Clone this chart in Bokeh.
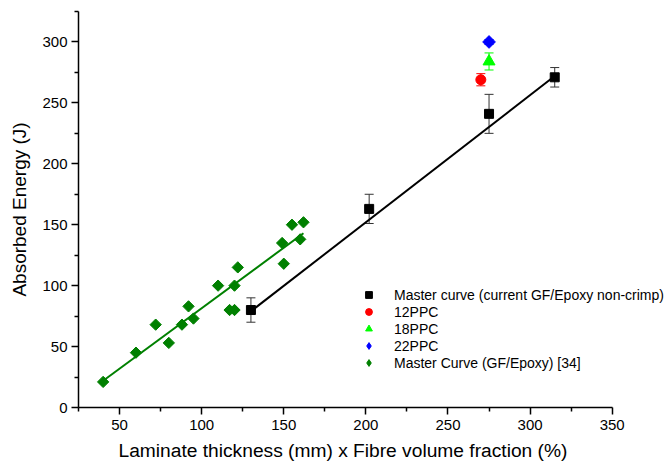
import numpy as np
from bokeh.plotting import figure
from bokeh.models import (Range1d, Whisker, ColumnDataSource, Legend, LegendItem,
                          TeeHead, FixedTicker, Title)
from bokeh.embed import file_html
from bokeh.resources import INLINE

# Master curve, current GF/Epoxy non-crimp laminates
master_x = [130, 202, 275, 315]
master_y = [80, 163, 241, 271]
master_err = [10, 12, 16, 8]
master_fit_x = [130, 315]
master_fit_y = [79, 272]

# Individual laminates
ppc12_x, ppc12_y, ppc12_err = [270], [269], [5]
ppc18_x, ppc18_y, ppc18_err = [275], [284], [7]
ppc22_x, ppc22_y, ppc22_err = [275], [300], [2]

# Master curve (GF/Epoxy) [34]
ref_x = [40, 60, 72, 80, 88, 92, 95, 110, 117, 120, 120, 122, 149, 150, 155, 160, 162]
ref_y = [21, 45, 68, 53, 68, 83, 73, 100, 80, 80, 100, 115, 135, 118, 150, 138, 152]
ref_fit_x = [40, 162]
ref_fit_y = [22, 143]

x_major = [50, 100, 150, 200, 250, 300, 350]
x_minor = [25, 75, 125, 175, 225, 275, 325]
y_major = [0, 50, 100, 150, 200, 250, 300]
y_minor = [25, 75, 125, 175, 225, 275, 325]

FONT = "Liberation Sans"

# the frame runs past x=350 so the legend has room; the axis itself stops at 350
p = figure(width=670, height=466, output_backend="svg", toolbar_location=None,
           x_range=Range1d(25, 385.5), y_range=Range1d(0, 325),
           min_border_left=78, min_border_right=0, min_border_top=11,
           min_border_bottom=59)
p.outline_line_color = None
p.xgrid.visible = False
p.ygrid.visible = False
p.background_fill_color = "white"
p.border_fill_color = "white"

p.xaxis.ticker = FixedTicker(ticks=x_major, minor_ticks=x_minor)
p.yaxis.ticker = FixedTicker(ticks=y_major, minor_ticks=y_minor)
p.xaxis.bounds = (25, 350)
p.yaxis.axis_label = "Absorbed Energy (J)"
for ax in (p.xaxis, p.yaxis):
    ax.axis_line_width = 1.5
    ax.axis_line_color = "black"
    ax.major_tick_line_color = "black"
    ax.minor_tick_line_color = "black"
    ax.major_tick_line_width = 1.5
    ax.minor_tick_line_width = 1.5
    ax.major_tick_out = 7
    ax.major_tick_in = 0
    ax.minor_tick_out = 4
    ax.minor_tick_in = 0
    ax.major_label_text_font = FONT
    ax.major_label_text_font_size = "15px"
    ax.major_label_text_color = "black"
    ax.axis_label_text_font = FONT
    ax.axis_label_text_font_size = "19px"
    ax.axis_label_text_font_style = "normal"
    ax.axis_label_text_color = "black"
p.xaxis.major_label_standoff = 5
p.yaxis.major_label_standoff = 4
p.yaxis.axis_label_standoff = 9

# x-axis title, left-aligned under the bounded axis
xtitle = Title(text="Laminate thickness (mm) x Fibre volume fraction (%)",
               align="left", offset=40, standoff=11,
               text_font=FONT, text_font_size="19.2px", text_font_style="normal",
               text_color="black")
p.add_layout(xtitle, "below")


def errbars(xs, ys, errs, color):
    src = ColumnDataSource(dict(x=xs, upper=[y + e for y, e in zip(ys, errs)],
                                lower=[y - e for y, e in zip(ys, errs)]))
    w = Whisker(base="x", upper="upper", lower="lower", source=src,
                line_color=color, line_width=1,
                upper_head=TeeHead(size=9, line_color=color, line_width=1),
                lower_head=TeeHead(size=9, line_color=color, line_width=1))
    p.add_layout(w)


# fitted lines
p.line(ref_fit_x, ref_fit_y, line_color="#008000", line_width=2)
p.line(master_fit_x, master_fit_y, line_color="black", line_width=2)

errbars(master_x, master_y, master_err, "#333333")
errbars(ppc12_x, ppc12_y, ppc12_err, "#ff0000")
errbars(ppc18_x, ppc18_y, ppc18_err, "#00ff00")
errbars(ppc22_x, ppc22_y, ppc22_err, "#0000ff")

# diamond keys for the legend sit underneath the rotated-square markers
r_22_key = p.scatter(ppc22_x, ppc22_y, marker="diamond", size=9,
                     fill_color="#0000ff", line_color="#0000ff")
r_ref_key = p.scatter(ref_x, ref_y, marker="diamond", size=8,
                      fill_color="#008000", line_color="#008000")

r_master = p.scatter(master_x, master_y, marker="square", size=9,
                     fill_color="black", line_color="black")
r_12 = p.scatter(ppc12_x, ppc12_y, marker="circle", size=10,
                 fill_color="#ff0000", line_color="#ff0000")
r_18 = p.scatter(ppc18_x, ppc18_y, marker="triangle", size=12,
                 fill_color="#00ff00", line_color="#00ff00")
p.scatter(ppc22_x, ppc22_y, marker="square", angle=np.pi / 4, size=9,
          fill_color="#0000ff", line_color="#0000ff")
p.scatter(ref_x, ref_y, marker="square", angle=np.pi / 4, size=8,
          fill_color="#008000", line_color="#008000")

legend = Legend(items=[
    LegendItem(label="Master curve (current GF/Epoxy non-crimp)", renderers=[r_master]),
    LegendItem(label="12PPC", renderers=[r_12]),
    LegendItem(label="18PPC", renderers=[r_18]),
    LegendItem(label="22PPC", renderers=[r_22_key]),
    LegendItem(label="Master Curve (GF/Epoxy) [34]", renderers=[r_ref_key]),
], location=(282, 36))
legend.background_fill_alpha = 0
legend.border_line_color = None
legend.label_text_font = FONT
legend.label_text_font_size = "14px"
legend.label_text_color = "black"
legend.glyph_width = 17
legend.glyph_height = 17
legend.label_height = 17
legend.spacing = 0
legend.padding = 0
legend.margin = 0
legend.label_standoff = 17
p.add_layout(legend)

open("out.html", "w").write(file_html(p, INLINE))
